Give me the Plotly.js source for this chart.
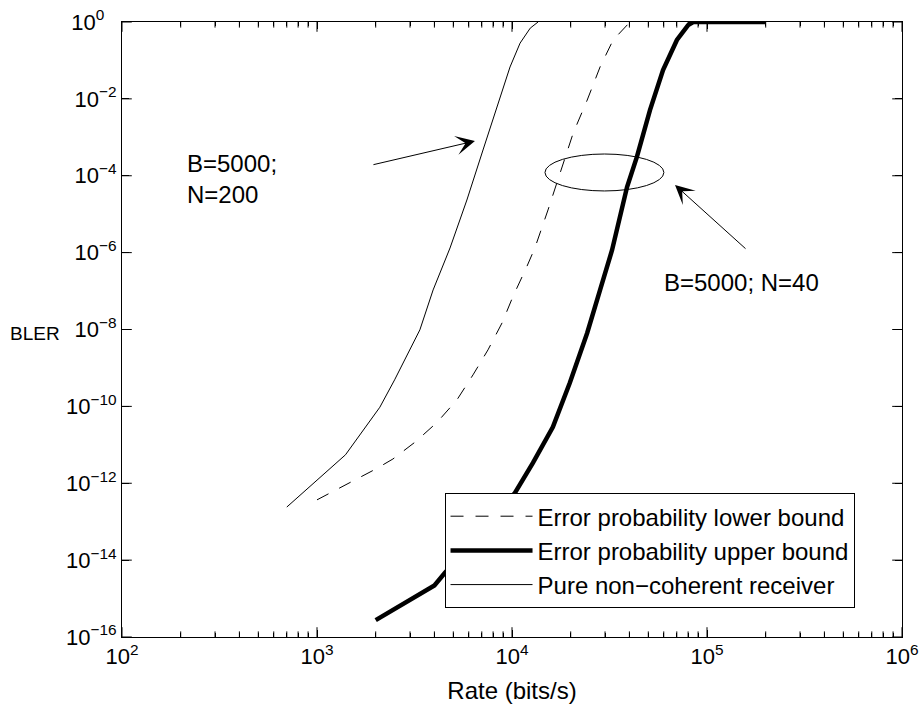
<!DOCTYPE html>
<html>
<head>
<meta charset="utf-8">
<script src="https://cdn.plot.ly/plotly-3.0.1.min.js"></script>
<style>
html,body{margin:0;padding:0;background:#fff;}
#chart{width:923px;height:711px;}
</style>
</head>
<body>
<div id="chart"></div>
<script>
// ---- Data ----
const lowerRate = [1000, 2000, 2450, 3180, 4120, 5220, 6310, 7530, 8890, 10100, 11900, 13100, 15300, 17600, 20600, 24300, 28300, 33000, 38900, 40300];
const lowerBler = [3.7e-13, 2.34e-12, 4.27e-12, 1.17e-11, 3.8e-11, 1.48e-10, 6.6e-10, 2.95e-9, 1.48e-8, 7.1e-8, 4.27e-7, 1.32e-6, 1.29e-5, 1.17e-4, 1.29e-3, 9.3e-3, 0.068, 0.34, 0.83, 1];

const upperRate = [2000, 4000, 4530, 6000, 8000, 10350, 12800, 16200, 19800, 24300, 28300, 32600, 38900, 43700, 51000, 59500, 70100, 80000, 85000, 200000];
const upperBler = [2.75e-16, 2.2e-15, 4.7e-15, 2.2e-14, 1.2e-13, 5.6e-13, 3.4e-12, 2.9e-11, 4.1e-10, 8.1e-9, 1.07e-7, 1.17e-6, 5.1e-5, 3.1e-4, 5.1e-3, 0.056, 0.34, 0.83, 1, 1];

const pureRate = [700, 1400, 2100, 2500, 3370, 3940, 4810, 5870, 7100, 8370, 9770, 11000, 12400, 13600];
const pureBler = [2.4e-13, 5.5e-12, 9.5e-11, 4.9e-10, 9.8e-9, 1.07e-7, 1.32e-6, 2.34e-5, 4.68e-4, 6.17e-3, 0.0676, 0.282, 0.692, 1];

const seriesNames = ["Error probability lower bound", "Error probability upper bound", "Pure non\u2212coherent receiver"];

const xTickVals = [1e2, 1e3, 1e4, 1e5, 1e6];
const xTickText = ["10<sup>2</sup>", "10<sup>3</sup>", "10<sup>4</sup>", "10<sup>5</sup>", "10<sup>6</sup>"];
const xMinorVals = [200,300,400,500,600,700,800,900,2000,3000,4000,5000,6000,7000,8000,9000,20000,30000,40000,50000,60000,70000,80000,90000,200000,300000,400000,500000,600000,700000,800000,900000];
const yTickVals = [1, 1e-2, 1e-4, 1e-6, 1e-8, 1e-10, 1e-12, 1e-14, 1e-16];
const yTickText = ["10<sup>0</sup>  ", "10<sup>\u22122</sup>", "10<sup>\u22124</sup>", "10<sup>\u22126</sup>", "10<sup>\u22128</sup>", "10<sup>\u221210</sup>", "10<sup>\u221212</sup>", "10<sup>\u221214</sup>", "10<sup>\u221216</sup>"];

const X_MIN = 1e2, X_MAX = 1e6, Y_MIN = 1e-16, Y_MAX = 1;

const FONT = "'Liberation Sans', Arial, Helvetica, sans-serif";
const FS = 24;
const TFS = 22;

const traces = [
  {x: lowerRate, y: lowerBler, name: seriesNames[0], mode: "lines",
   line: {color: "#000", width: 1, dash: "13px,12px"}},
  {x: upperRate, y: upperBler, name: seriesNames[1], mode: "lines",
   line: {color: "#000", width: 4.5}},
  {x: pureRate, y: pureBler, name: seriesNames[2], mode: "lines",
   line: {color: "#000", width: 1}}
];

// Inward tick marks on all four sides: line markers centred on the axis edge,
// clipped by the plot area so only the inner half shows (same spots as the axis ticks).
function tickTrace(xs, ys, symbol, size) {
  return {x: xs, y: ys, mode: "markers", showlegend: false, hoverinfo: "skip", cliponaxis: true,
    marker: {symbol: symbol, size: size, color: "#000", line: {color: "#000", width: 1}}};
}
const xMajBottom = xTickVals.map(() => Y_MIN), xMajTop = xTickVals.map(() => Y_MAX);
const xMinBottom = xMinorVals.map(() => Y_MIN), xMinTop = xMinorVals.map(() => Y_MAX);
const yLeft = yTickVals.map(() => X_MIN), yRight = yTickVals.map(() => X_MAX);
traces.push(
  tickTrace(xTickVals, xMajBottom, "line-ns", 14),
  tickTrace(xTickVals, xMajTop, "line-ns", 14),
  tickTrace(xMinorVals, xMinBottom, "line-ns", 8),
  tickTrace(xMinorVals, xMinTop, "line-ns", 8),
  tickTrace(yLeft, yTickVals, "line-ew", 14),
  tickTrace(yRight, yTickVals, "line-ew", 14)
);

const layout = {
  width: 923, height: 711,
  margin: {l: 122, r: 21, t: 22, b: 74, pad: 0},
  paper_bgcolor: "#fff", plot_bgcolor: "#fff",
  font: {family: FONT, size: FS, color: "#000"},
  showlegend: true,
  legend: {
    x: 0.4135, y: 0.234, xanchor: "left", yanchor: "top",
    bgcolor: "#fff", bordercolor: "#000", borderwidth: 1,
    font: {family: FONT, size: FS, color: "#000"},
    itemwidth: 82, tracegroupgap: 0
  },
  xaxis: {
    type: "log", range: [Math.log10(X_MIN), Math.log10(X_MAX)],
    showgrid: false, zeroline: false,
    showline: true, linecolor: "#000", linewidth: 1, mirror: "ticks",
    ticks: "inside", ticklen: 7, tickwidth: 1, tickcolor: "#000",
    tickmode: "array", tickvals: xTickVals, ticktext: xTickText,
    tickfont: {family: FONT, size: TFS, color: "#000"},
    minor: {tickmode: "array", tickvals: xMinorVals, ticks: "inside", ticklen: 4, tickwidth: 1, tickcolor: "#000", showgrid: false},
    title: {text: "Rate (bits/s)", font: {family: FONT, size: FS, color: "#000"}, standoff: 13},
    automargin: false
  },
  yaxis: {
    type: "log", range: [Math.log10(Y_MIN), Math.log10(Y_MAX)],
    showgrid: false, zeroline: false,
    showline: true, linecolor: "#000", linewidth: 1, mirror: "ticks",
    ticks: "inside", ticklen: 7, tickwidth: 1, tickcolor: "#000",
    tickmode: "array", tickvals: yTickVals, ticktext: yTickText,
    tickfont: {family: FONT, size: TFS, color: "#000"},
    automargin: false
  },
  shapes: [
    {type: "circle", xref: "x", yref: "y", x0: 14760, x1: 60100, y0: 3.68e-4, y1: 4.02e-5,
     line: {color: "#000", width: 1}, fillcolor: "rgba(0,0,0,0)"}
  ],
  annotations: [
    {xref: "paper", yref: "paper", x: -0.146, y: 0.494, xanchor: "left", yanchor: "middle",
     text: "BLER", showarrow: false, font: {family: FONT, size: 19, color: "#000"}},
    {xref: "x", yref: "y", x: 2.322, y: -4.08, xanchor: "left", yanchor: "middle", align: "left",
     text: "B=5000;<br>N=200", showarrow: false, font: {family: FONT, size: FS, color: "#000"}},
    {xref: "x", yref: "y", x: 3.810, y: -3.096, text: "", showarrow: true,
     ax: -103, ay: 24, arrowhead: 3, arrowsize: 3.2, arrowwidth: 1, arrowcolor: "#000"},
    {xref: "x", yref: "y", x: 4.836, y: -4.240, text: "", showarrow: true,
     ax: 72, ay: 65, arrowhead: 3, arrowsize: 3.2, arrowwidth: 1, arrowcolor: "#000"},
    {xref: "x", yref: "y", x: 4.77, y: -6.765, xanchor: "left", yanchor: "middle",
     text: "B=5000; N=40", showarrow: false, font: {family: FONT, size: FS, color: "#000"}}
  ]
};

Plotly.newPlot("chart", traces, layout, {displayModeBar: false, staticPlot: true});
</script>
</body>
</html>
